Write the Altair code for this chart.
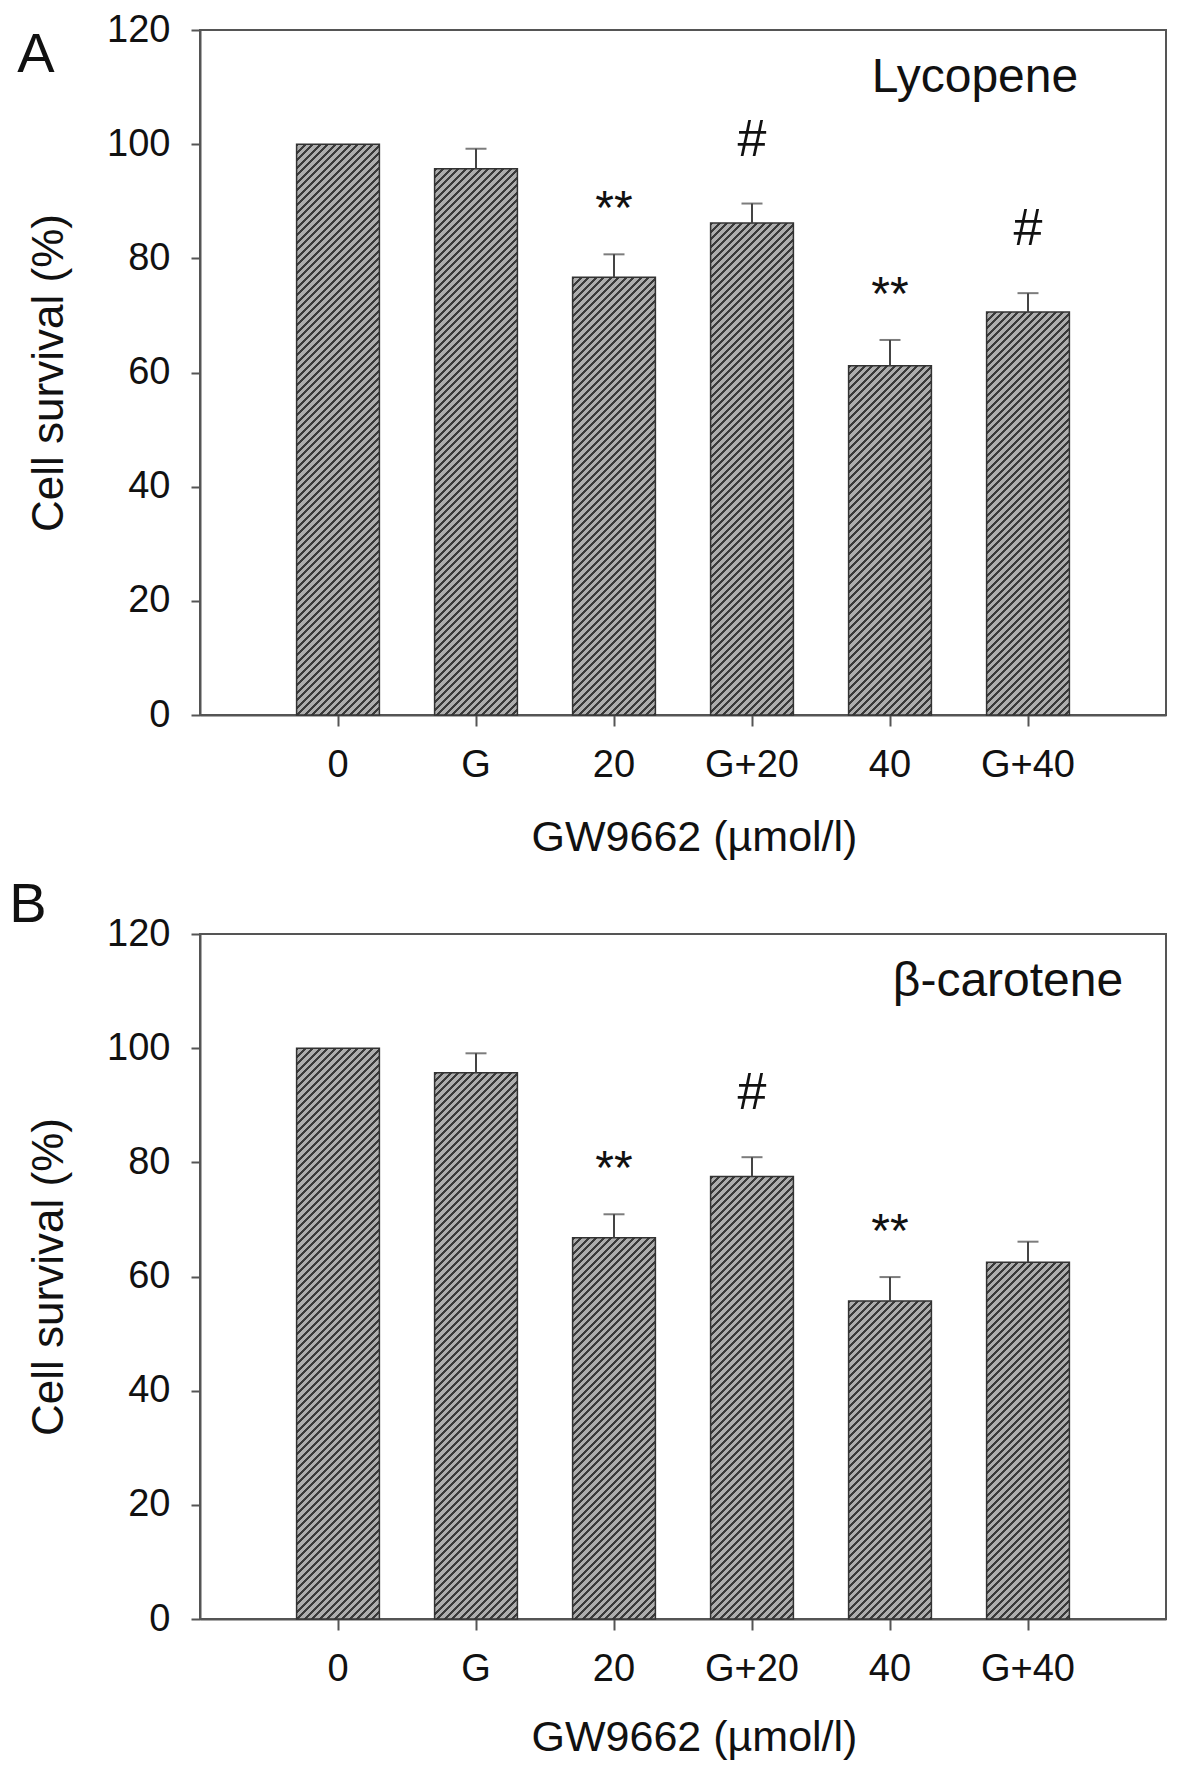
import math

import altair as alt

# x categories and bar values
groups = ["0", "G", "20", "G+20", "40", "G+40"]
y_ticks = [0, 20, 40, 60, 80, 100, 120]

lyc_mean = [100, 95.7, 76.7, 86.2, 61.2, 70.6]
lyc_sem = [0, 3.5, 4.0, 3.4, 4.5, 3.3]
lyc_sig = ["", "", "**", "#", "**", "#"]

car_mean = [100, 95.7, 66.8, 77.5, 55.7, 62.5]
car_sem = [0, 3.4, 4.1, 3.4, 4.2, 3.6]
car_sig = ["", "", "**", "#", "**", ""]

W, H = 966, 685
FONT = "Liberation Sans"
INK = "#111111"
AXIS = "#555555"
DARK, LIGHT = "#3a3a3a", "#adadad"


def hatch(value):
    # diagonal stripes as a hard-stop linear gradient in the bar's bbox
    w = W / 7 * 0.6
    h = value / 120 * H
    p = 7.5
    n = math.ceil((w + h) / p) + 1
    d = w * w + h * h
    stops = []
    for i in range(n):
        a, b, c = i / n, (i + 0.42) / n, (i + 1) / n
        stops += [{"offset": round(a, 5), "color": DARK}, {"offset": round(b, 5), "color": DARK},
                  {"offset": round(b, 5), "color": LIGHT}, {"offset": round(c, 5), "color": LIGHT}]
    return {"gradient": "linear", "x1": 0, "y1": 0,
            "x2": n * p * w / d, "y2": n * p * h / d, "stops": stops}


def panel(means, sems, sigs, letter, letter_pos, name, name_pos, xtitle, xtitle_pos):
    rows = [{"group": g, "mean": m, "top": m + s, "sem": s, "sig": t, "hatch": hatch(m)}
            for g, m, s, t in zip(groups, means, sems, sigs)]
    data = alt.Data(values=rows)

    x = alt.X("group:N", sort=groups,
              scale=alt.Scale(paddingInner=0.4, paddingOuter=0.7),
              axis=alt.Axis(title=xtitle, labelAngle=0, labelFontSize=38, labelPadding=39,
                            labelBaseline="middle", tickSize=11,
                            titleX=xtitle_pos[0], titleY=xtitle_pos[1],
                            titleAlign="center", titleBaseline="middle", titleFontSize=43))
    y = alt.Y("mean:Q", scale=alt.Scale(domain=[0, 120]),
              axis=alt.Axis(values=y_ticks, title="Cell survival (%)", labelFontSize=38,
                            labelPadding=21, tickSize=9, grid=False,
                            titleX=-151, titleY=H / 2, titleAngle=270,
                            titleAlign="center", titleBaseline="middle", titleFontSize=44))

    base = alt.Chart(data).encode(x=x)
    bars = base.mark_bar(stroke="#333333", strokeWidth=1.5, aria=False).encode(
        y=y, fill=alt.Fill("hatch:N", scale=None))
    err = base.mark_rule(color="#444444", strokeWidth=2).encode(
        y="mean:Q", y2="top:Q").transform_filter("datum.sem > 0")
    cap = base.mark_tick(color="#444444", thickness=2, size=21).encode(
        y="top:Q").transform_filter("datum.sem > 0")
    stars = base.mark_text(font=FONT, fontSize=48, color=INK, baseline="middle", dy=-44).encode(
        y="top:Q", text="sig:N").transform_filter("datum.sig == '**'")
    hashes = base.mark_text(font=FONT, fontSize=52, color=INK, baseline="middle", dy=-64).encode(
        y="top:Q", text="sig:N").transform_filter("datum.sig == '#'")

    label = alt.Chart(alt.Data(values=[{"t": name}])).mark_text(
        font=FONT, fontSize=48, color=INK, align="center", baseline="alphabetic").encode(
        text="t:N", x=alt.value(name_pos[0]), y=alt.value(name_pos[1]))
    tag = alt.Chart(alt.Data(values=[{"t": letter}])).mark_text(
        font=FONT, fontSize=56, color=INK, align="center", baseline="alphabetic").encode(
        text="t:N", x=alt.value(letter_pos[0]), y=alt.value(letter_pos[1]))

    return alt.layer(bars, err, cap, stars, hashes, label, tag).properties(width=W, height=H)


panel_a = panel(lyc_mean, lyc_sem, lyc_sig, "A", (-164, 42), "Lycopene", (775, 62),
                "GW9662  (\u00b5mol/l)", (494, 122))
panel_b = panel(car_mean, car_sem, car_sig, "B", (-172, -12), "\u03b2-carotene", (808, 62),
                "GW9662 (\u00b5mol/l)", (494, 118))

chart = alt.vconcat(panel_a, panel_b, spacing=16).properties(
    padding={"left": 0, "top": 2, "right": 0, "bottom": 0}
).configure_view(
    stroke=AXIS, strokeWidth=2
).configure_axis(
    labelFont=FONT, titleFont=FONT, labelColor=INK, titleColor=INK,
    titleFontWeight="normal", domainColor=AXIS, domainWidth=2,
    tickColor=AXIS, tickWidth=2
)

chart.save("out.html", embed_options={"renderer": "svg", "actions": False})
